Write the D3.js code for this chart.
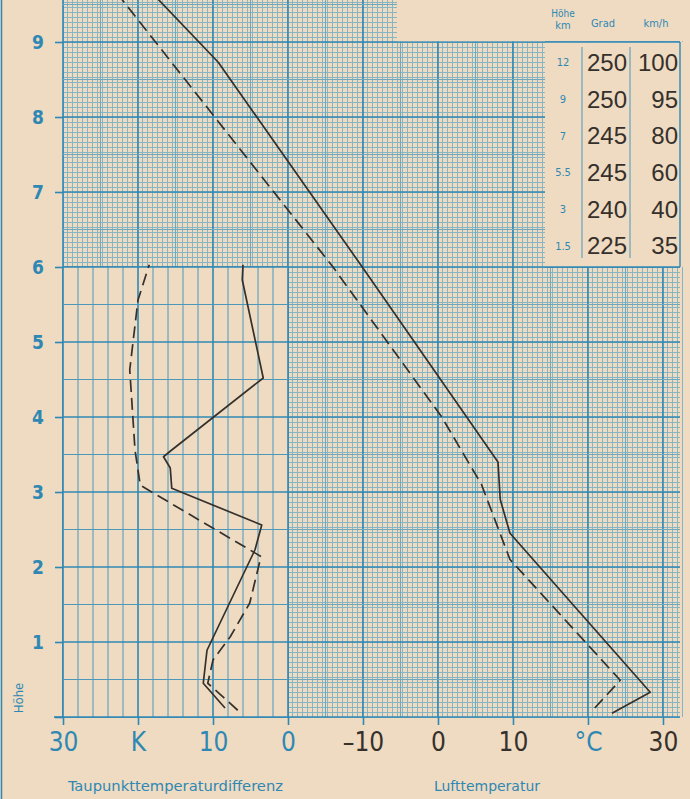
<!DOCTYPE html>
<html>
<head>
<meta charset="utf-8">
<script src="https://cdn.jsdelivr.net/npm/d3@7"></script>
<style>
  body { margin: 0; background: #efdbbf; }
  text { font-family: 'Liberation Sans Narrow', 'DejaVu Sans Condensed', sans-serif; }
</style>
</head>
<body>
<script>
// air temperature (solid) and dew point (dashed), height in km
let tempHeight = [0.05, 0.33, 2.45, 2.9, 3.4, 6.0, 8.73, 9.6]
let tempValue  = [23.2, 28.3, 9.6, 8.3, 8.0, -10.1, -29.3, -37.6]

let dewHeight = [0.12, 0.49, 2.1, 3.1, 4.0, 6.0, 9.6]
let dewValue  = [20.9, 24.3, 9.6, 5.8, 0.5, -14.0, -42.4]

// dew point spread (left panel), two soundings
let spreadHeight = [0.12, 0.45, 0.89, 2.23, 2.56, 3.05, 3.32, 3.47, 3.56, 4.52, 5.83, 6.03]
let spreadValue  = [8.4, 11.3, 10.8, 4.4, 3.5, 15.5, 15.7, 16.6, 15.5, 3.3, 6.1, 6.0]

let spreadDashHeight = [0.09, 0.45, 0.76, 1.07, 1.52, 2.14, 3.09, 3.56, 4.63, 5.56, 6.03]
let spreadDashValue  = [6.7, 10.7, 10.0, 7.7, 5.1, 3.6, 19.7, 20.4, 21.1, 20.0, 18.5]

// axis ticks
let heightTicks = [0, 1, 2, 3, 4, 5, 6, 7, 8, 9]
let spreadTicks = [30, 20, 10, 0]
let spreadTickLabels = ['30', 'K', '10', '0']
let tempTicks = [-10, 0, 10, 20, 30]
let tempTickLabels = ['\u201310', '0', '10', '\u00b0C', '30']

// wind table
let windLevel = ['12', '9', '7', '5.5', '3', '1.5']
let windDir   = [250, 250, 245, 245, 240, 225]
let windSpeed = [100, 95, 80, 60, 40, 35]

let
  width = 690,
  height = 799;

let paper = '#eedbc1',
    blue = '#2f88b4',
    ink = '#36302c';

let svg = d3.select('body')
            .append('svg')
            .attr('width', width)
            .attr('height', height)
            .style('display', 'block')

svg.append('rect').attr('width', width).attr('height', height).attr('fill', paper)

let yScale = d3.scaleLinear().domain([0, 9.56]).range([717, 0])
let xTemp = d3.scaleLinear().domain([-50, 32.27]).range([63, 680])
let xSpread = d3.scaleLinear().domain([30, 0]).range([63, 288])

// left border of the sheet
svg.append('line').attr('x1', 1.5).attr('x2', 1.5).attr('y1', 0).attr('y2', height)
   .attr('stroke', blue).attr('stroke-width', 1.5)

// fine grid: 15 cells per 10 degrees / per km
let fine = svg.append('g').attr('shape-rendering', 'crispEdges')

fine.selectAll('.v')
    .data(d3.range(0, 125))
    .join('line')
    .attr('x1', d => xTemp(-50 + d * 2 / 3)).attr('x2', d => xTemp(-50 + d * 2 / 3))
    .attr('y1', yScale(9.56)).attr('y2', yScale(0))
    .attr('stroke', '#86b6c4').attr('stroke-width', 1)

fine.selectAll('.h')
    .data(d3.range(0, 144))
    .join('line')
    .attr('x1', xTemp.range()[0]).attr('x2', xTemp.range()[1])
    .attr('y1', d => yScale(d / 15)).attr('y2', d => yScale(d / 15))
    .attr('stroke', '#86b6c4').attr('stroke-width', 1)

// half-way and main lines
let main = svg.append('g')
main.selectAll('.v')
    .data(d3.range(-50, 33, 5))
    .join('line')
    .attr('x1', d => xTemp(d)).attr('x2', d => xTemp(d))
    .attr('y1', yScale(9.56)).attr('y2', yScale(0))
    .attr('stroke', d => d % 10 === 0 ? blue : '#6ea8bf')
    .attr('stroke-width', d => d % 10 === 0 ? 1.6 : 1)
main.selectAll('.h')
    .data(d3.range(0, 20))
    .join('line')
    .attr('x1', xTemp.range()[0]).attr('x2', xTemp.range()[1])
    .attr('y1', d => yScale(d / 2)).attr('y2', d => yScale(d / 2))
    .attr('stroke', d => d % 2 === 0 ? blue : '#6ea8bf')
    .attr('stroke-width', d => d % 2 === 0 ? 1.6 : 1)

// blank paper: spread panel, header, wind table
svg.append('rect')
   .attr('x', xSpread(30)).attr('y', yScale(6))
   .attr('width', xSpread(0) - xSpread(30)).attr('height', yScale(0) - yScale(6))
   .attr('fill', paper)
svg.append('rect')
   .attr('x', 397).attr('y', 0)
   .attr('width', width - 397).attr('height', yScale(9) - 0.8)
   .attr('fill', paper)
svg.append('rect')
   .attr('x', 545).attr('y', yScale(9))
   .attr('width', width - 545).attr('height', yScale(6) - yScale(9))
   .attr('fill', paper)

// coarse grid of the spread panel
let coarse = svg.append('g')
coarse.selectAll('.v')
      .data(d3.range(0, 31, 2))
      .join('line')
      .attr('x1', d => xSpread(d)).attr('x2', d => xSpread(d))
      .attr('y1', yScale(6)).attr('y2', yScale(0))
      .attr('stroke', d => d % 10 === 0 ? blue : '#4b98bd')
      .attr('stroke-width', d => d % 10 === 0 ? 1.6 : 1)
coarse.selectAll('.h')
      .data(d3.range(0, 13))
      .join('line')
      .attr('x1', xSpread(30)).attr('x2', xSpread(0))
      .attr('y1', d => yScale(d / 2)).attr('y2', d => yScale(d / 2))
      .attr('stroke', d => d % 2 === 0 ? blue : '#4b98bd')
      .attr('stroke-width', d => d % 2 === 0 ? 1.6 : 1)

// wind table frame
let table = svg.append('g')
table.append('line').attr('x1', 545).attr('x2', 680).attr('y1', yScale(9)).attr('y2', yScale(9))
     .attr('stroke', blue).attr('stroke-width', 1.6)
table.append('line').attr('x1', 545).attr('x2', 680).attr('y1', yScale(6)).attr('y2', yScale(6))
     .attr('stroke', blue).attr('stroke-width', 1.6)
table.append('line').attr('x1', 680).attr('x2', 680).attr('y1', yScale(9)).attr('y2', yScale(6))
     .attr('stroke', blue).attr('stroke-width', 1.4)
table.selectAll('.col')
     .data([582, 630])
     .join('line')
     .attr('x1', d => d).attr('x2', d => d)
     .attr('y1', 47).attr('y2', 258)
     .attr('stroke', '#4b98bd').attr('stroke-width', 1)

let rowScale = d3.scaleBand().domain(windLevel).range([44, 264])

table.selectAll('.lvl')
     .data(windLevel)
     .join('text')
     .attr('x', 563).attr('y', d => rowScale(d) + rowScale.bandwidth() / 2)
     .attr('dy', '0.35em')
     .attr('text-anchor', 'middle')
     .attr('fill', blue)
     .style('font-size', '11px')
     .text(d => d)
table.selectAll('.dir')
     .data(windDir)
     .join('text')
     .attr('x', 607).attr('y', (d, i) => rowScale(windLevel[i]) + rowScale.bandwidth() / 2)
     .attr('dy', '0.36em')
     .attr('text-anchor', 'middle')
     .attr('fill', ink)
     .style('font-family', "'Liberation Sans', Arial, sans-serif")
     .style('font-size', '24px')
     .text(d => d)
table.selectAll('.spd')
     .data(windSpeed)
     .join('text')
     .attr('x', 678).attr('y', (d, i) => rowScale(windLevel[i]) + rowScale.bandwidth() / 2)
     .attr('dy', '0.36em')
     .attr('text-anchor', 'end')
     .attr('fill', ink)
     .style('font-family', "'Liberation Sans', Arial, sans-serif")
     .style('font-size', '24px')
     .text(d => d)

// table header
let head = [['H\u00f6he', 563, 17, 10], ['km', 563, 29, 11], ['Grad', 603, 27, 11], ['km/h', 656, 27, 11]]
svg.selectAll('.head')
   .data(head)
   .join('text')
   .attr('x', d => d[1]).attr('y', d => d[2])
   .attr('text-anchor', 'middle')
   .attr('fill', blue)
   .style('font-size', d => d[3] + 'px')
   .text(d => d[0])

// axes
let yAxis = svg.append('g')
               .attr('transform', `translate(${xTemp(-50)}, 0)`)
               .call(d3.axisLeft(yScale).tickValues(heightTicks).tickSize(8).tickSizeOuter(0).tickPadding(11)
                       .tickFormat(d => d === 0 ? '' : d))
yAxis.select('.domain').remove()

let spreadAxis = svg.append('g')
                    .attr('transform', `translate(0, ${yScale(0)})`)
                    .call(d3.axisBottom(xSpread).tickValues(spreadTicks).tickSize(8).tickSizeOuter(0).tickPadding(8)
                            .tickFormat((d, i) => spreadTickLabels[i]))
spreadAxis.select('.domain').remove()

let tempAxis = svg.append('g')
                  .attr('transform', `translate(0, ${yScale(0)})`)
                  .call(d3.axisBottom(xTemp).tickValues(tempTicks).tickSize(8).tickSizeOuter(0).tickPadding(8)
                          .tickFormat((d, i) => tempTickLabels[i]))
tempAxis.select('.domain').remove()

// base line reaching out to the left tick
svg.append('line').attr('x1', 54).attr('x2', xTemp(-50)).attr('y1', yScale(0)).attr('y2', yScale(0))
   .attr('stroke', blue).attr('stroke-width', 1.6)

svg.selectAll('.tick line').attr('stroke', blue).attr('stroke-width', 1.6)
yAxis.selectAll('text').attr('fill', blue).style('font-size', '19px').style('font-weight', 'bold')
spreadAxis.selectAll('text').attr('fill', blue).style('font-size', '26px')
tempAxis.selectAll('text').attr('fill', d => d === 20 ? blue : ink).style('font-size', '26px')

// soundings
let tempLine = d3.line().x(d => xTemp(d[1])).y(d => yScale(d[0]))
let spreadLine = d3.line().x(d => xSpread(d[1])).y(d => yScale(d[0]))

let plot = svg.append('g').attr('fill', 'none').attr('stroke', ink).attr('stroke-width', 1.7)
              .attr('stroke-linejoin', 'round')

plot.append('path').attr('d', tempLine(d3.zip(tempHeight, tempValue)))
plot.append('path').attr('d', tempLine(d3.zip(dewHeight, dewValue))).attr('stroke-dasharray', '12,6')
plot.append('path').attr('d', spreadLine(d3.zip(spreadHeight, spreadValue)))
plot.append('path').attr('d', spreadLine(d3.zip(spreadDashHeight, spreadDashValue))).attr('stroke-dasharray', '12,6')

// titles
svg.append('text')
   .attr('x', 68).attr('y', 791)
   .attr('fill', blue)
   .attr('textLength', 215).attr('lengthAdjust', 'spacingAndGlyphs')
   .style('font-size', '14px')
   .text('Taupunkttemperaturdifferenz')
svg.append('text')
   .attr('x', 434).attr('y', 791)
   .attr('fill', blue)
   .attr('textLength', 106).attr('lengthAdjust', 'spacingAndGlyphs')
   .style('font-size', '14px')
   .text('Lufttemperatur')
svg.append('text')
   .attr('transform', 'translate(23, 698) rotate(-90)')
   .attr('text-anchor', 'middle')
   .attr('fill', blue)
   .style('font-size', '13px')
   .text('H\u00f6he')
</script>
</body>
</html>
